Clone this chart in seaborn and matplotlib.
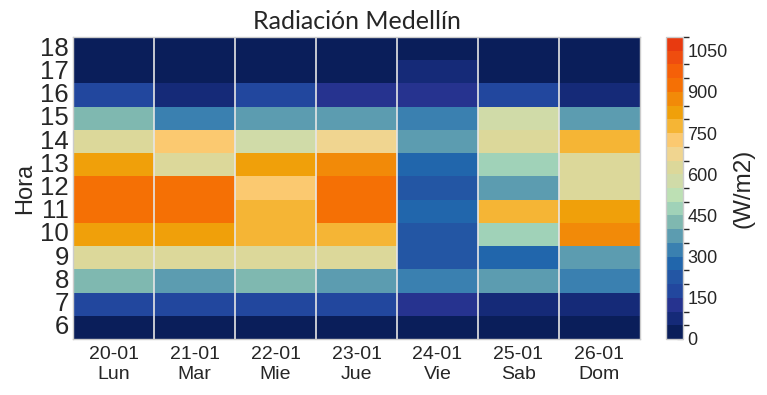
import numpy as np
import pandas as pd
import seaborn as sns
import matplotlib
matplotlib.use("Agg")
import matplotlib.pyplot as plt
from matplotlib.colors import ListedColormap, BoundaryNorm
from matplotlib import font_manager

# ---------------- data ----------------
days = ["20-01\nLun", "21-01\nMar", "22-01\nMie", "23-01\nJue",
        "24-01\nVie", "25-01\nSab", "26-01\nDom"]
hours = [18, 17, 16, 15, 14, 13, 12, 11, 10, 9, 8, 7, 6]

# radiation (W/m2), listed from hour 18 down to hour 6
lun = [25, 25, 175, 425, 625, 825, 925, 925, 825, 625, 425, 175, 25]
mar = [25, 25, 75, 325, 725, 625, 925, 925, 825, 625, 375, 175, 25]
mie = [25, 25, 175, 375, 575, 825, 725, 775, 775, 625, 425, 175, 25]
jue = [25, 25, 125, 375, 675, 875, 925, 925, 775, 625, 375, 175, 25]
vie = [25, 75, 125, 325, 375, 275, 225, 275, 225, 225, 325, 125, 25]
sab = [25, 25, 175, 575, 625, 475, 375, 775, 475, 275, 375, 75, 25]
dom = [25, 25, 75, 375, 775, 625, 625, 825, 875, 375, 325, 75, 25]

level_colors = ["#0a1e5a", "#152a78", "#26338f", "#22479e", "#2356a4",
                "#2166ac", "#3a80b0", "#5c9cb0", "#7fb8b0", "#a0d2b8",
                "#bde0b4", "#d0dba8", "#dcd89a", "#f0d590", "#fbc970",
                "#f5b535", "#f0a00a", "#f28a08", "#f57005", "#f56008",
                "#ef4d0f", "#e83a10"]
levels = list(range(0, 1101, 50))
cbar_ticks = list(range(0, 1051, 150))

df = pd.DataFrame({d: v for d, v in zip(days, [lun, mar, mie, jue, vie, sab, dom])},
                  index=hours)

# ---------------- fonts ----------------
avail = {f.name for f in font_manager.fontManager.ttflist}
main_font = "Liberation Sans" if "Liberation Sans" in avail else "DejaVu Sans"
narrow_font = "Liberation Sans Narrow" if "Liberation Sans Narrow" in avail else main_font
title_font = "Lato" if "Lato" in avail else main_font

sns.set_theme(style="white")
plt.rcParams["font.family"] = [main_font, "DejaVu Sans"]
text_color = "#262626"

cmap = ListedColormap(level_colors)
norm = BoundaryNorm(levels, cmap.N)

fig = plt.figure(figsize=(7.67, 3.95), dpi=100)
ax = fig.add_axes([0.0952, 0.1418, 0.7392, 0.7645])
cax = fig.add_axes([0.8683, 0.1418, 0.0222, 0.7645])

sns.heatmap(df, cmap=cmap, norm=norm, ax=ax, cbar_ax=cax,
            cbar_kws={"ticks": cbar_ticks})

# vertical separators between days
for x in range(1, len(days)):
    ax.axvline(x, color="#e6e6e6", lw=1.2)

for s in ax.spines.values():
    s.set_visible(True)
    s.set_color("#cccccc")
    s.set_linewidth(1.0)

ax.set_title("Radiación Medellín", fontsize=18, color=text_color, pad=6,
             family=[title_font, "DejaVu Sans"])
ax.set_ylabel("Hora", fontsize=17, color=text_color, labelpad=3)
ax.set_xlabel("")
ax.set_xticklabels(days, rotation=0, fontsize=14, color=text_color,
                   linespacing=1.25)
ax.set_yticklabels([str(h) for h in hours], rotation=0, fontsize=18.5,
                   color=text_color, family=[narrow_font, "DejaVu Sans"])
ax.tick_params(axis="both", which="major", direction="in", length=4,
               width=0.8, color="#333333", bottom=True, left=True, pad=3)
ax.tick_params(axis="x", pad=5)

cbar = ax.collections[0].colorbar
cbar.outline.set_edgecolor("#cccccc")
cbar.outline.set_linewidth(1.0)
cax.tick_params(direction="in", length=4, width=0.8, color="#333333",
                labelsize=13, labelcolor=text_color, pad=3, right=True)
cbar.set_label("(W/m2)", fontsize=17.5, color=text_color, labelpad=4)

fig.savefig("out.png", dpi=100)
